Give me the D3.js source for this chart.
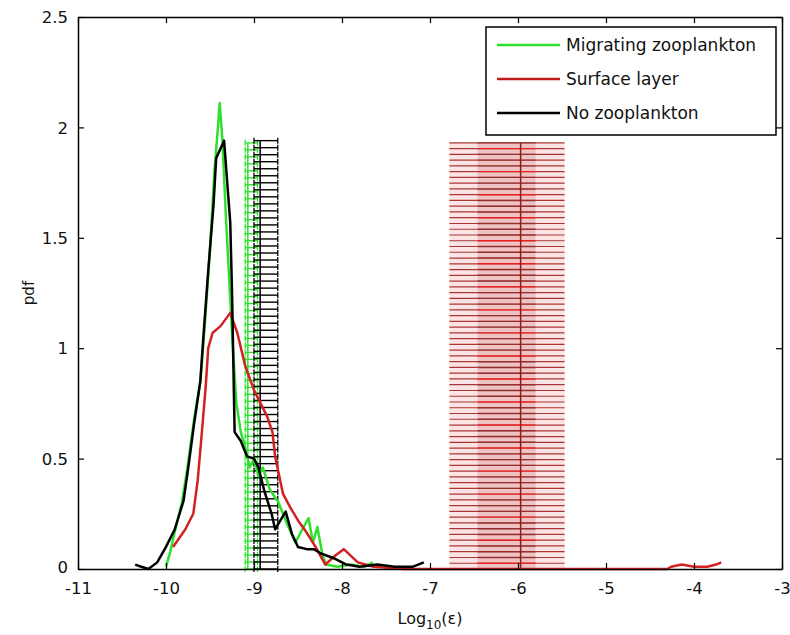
<!DOCTYPE html>
<html>
<head>
    <script src='https://cdn.jsdelivr.net/npm/d3@7'></script>
    <style type='text/css'>
        html, body { margin: 0; padding: 0; background: #ffffff; }
        text { font-family: 'DejaVu Sans', sans-serif; fill: #111; }
    </style>
</head>
<body>
<script>
    // Axis ticks
    const xTicks = [-11, -10, -9, -8, -7, -6, -5, -4, -3];
    const yTicks = [0, 0.5, 1, 1.5, 2, 2.5];

    // pdf curves [log10(eps), pdf]
    const migrating = [[-10.0,0.01],[-9.95,0.08],[-9.9,0.17],[-9.82,0.3],[-9.76,0.45],[-9.68,0.68],[-9.61,0.85],
        [-9.56,1.1],[-9.5,1.45],[-9.45,1.8],[-9.41,2.0],[-9.39,2.11],[-9.36,1.95],[-9.32,1.6],[-9.28,1.3],
        [-9.24,1.0],[-9.2,0.75],[-9.15,0.62],[-9.1,0.55],[-9.05,0.46],[-9.0,0.5],[-8.95,0.42],[-8.9,0.46],
        [-8.82,0.36],[-8.72,0.3],[-8.62,0.2],[-8.53,0.12],[-8.45,0.18],[-8.38,0.23],[-8.33,0.12],[-8.28,0.19],
        [-8.22,0.06],[-8.18,0.02],[-8.05,0.01],[-7.9,0.02],[-7.75,0.01],[-7.65,0.03]];
    const surface = [[-9.92,0.1],[-9.78,0.18],[-9.69,0.25],[-9.64,0.4],[-9.59,0.63],[-9.55,0.82],[-9.52,1.0],
        [-9.47,1.07],[-9.38,1.1],[-9.27,1.16],[-9.19,1.07],[-9.1,0.92],[-9.0,0.81],[-8.85,0.69],[-8.79,0.62],
        [-8.76,0.51],[-8.67,0.34],[-8.59,0.28],[-8.5,0.22],[-8.41,0.17],[-8.3,0.1],[-8.19,0.02],[-8.08,0.06],
        [-7.98,0.09],[-7.82,0.03],[-7.64,0.01],[-7.3,0.0],[-6.8,0.0],[-6.0,0.0],[-5.0,0.0],[-4.3,0.0],
        [-4.26,0.01],[-4.14,0.02],[-4.0,0.01],[-3.85,0.01],[-3.75,0.02],[-3.69,0.03]];
    const noZoo = [[-10.35,0.02],[-10.28,0.01],[-10.2,0.0],[-10.1,0.03],[-10.0,0.1],[-9.9,0.18],[-9.8,0.31],
        [-9.75,0.45],[-9.68,0.66],[-9.61,0.85],[-9.57,1.08],[-9.52,1.35],[-9.46,1.65],[-9.43,1.86],[-9.34,1.94],
        [-9.27,1.57],[-9.25,1.26],[-9.22,0.62],[-9.15,0.58],[-9.08,0.51],[-9.0,0.5],[-8.95,0.46],[-8.88,0.35],
        [-8.8,0.25],[-8.76,0.18],[-8.7,0.22],[-8.64,0.26],[-8.57,0.16],[-8.5,0.1],[-8.4,0.09],[-8.32,0.09],
        [-8.24,0.07],[-8.1,0.05],[-7.95,0.02],[-7.8,0.01],[-7.6,0.02],[-7.4,0.01],[-7.2,0.01],[-7.07,0.03]];

    // horizontal error-bar combs: centre, extents, top level, number of levels
    const combNames = ['Migrating zooplankton', 'No zooplankton', 'Surface layer'];
    const combCentre = [-9.07, -8.93, -5.97];
    const combLo = [-9.1, -9.0, -6.78];
    const combHi = [-8.96, -8.73, -5.47];
    const combInnerLo = [null, null, -6.46];
    const combInnerHi = [null, null, -5.8];
    const combTop = [1.93, 1.94, 1.93];
    const combLevels = [62, 62, 75];

    const seriesNames = ['Migrating zooplankton', 'Surface layer', 'No zooplankton'];
    const seriesColors = ['#2ee02e', '#d42020', '#000000'];

    // page setup
    const width = 790, height = 635;
    const margin = {left: 78, right: 8, top: 17, bottom: 66};
    const svg = d3.select('body').append('svg')
        .attr('width', width).attr('height', height);

    const x = d3.scaleLinear().domain([-11, -3]).range([margin.left, width - margin.right]);
    const y = d3.scaleLinear().domain([0, 2.5]).range([height - margin.bottom, margin.top]);

    const plot = svg.append('g');

    // combs
    const combColors = ['#2ee02e', '#000000', '#a83636'];
    combNames.forEach((name, i) => {
        const g = plot.append('g');
        const levels = d3.range(combLevels[i]).map(k => combTop[i] * k / (combLevels[i] - 1));
        if (i === 2) {
            g.append('rect')
                .attr('x', x(combLo[i])).attr('y', y(combTop[i]))
                .attr('width', x(combHi[i]) - x(combLo[i]))
                .attr('height', y(0) - y(combTop[i]))
                .attr('fill', '#fde4e4');
        }
        g.selectAll('line.h').data(levels).join('line')
            .attr('class', 'h')
            .attr('x1', x(combLo[i])).attr('x2', x(combHi[i]))
            .attr('y1', d => y(d)).attr('y2', d => y(d))
            .attr('stroke', combColors[i]).attr('stroke-width', i === 2 ? 1.2 : 1.4);
        if (combInnerLo[i] !== null) {
            g.append('rect')
                .attr('x', x(combInnerLo[i])).attr('y', y(combTop[i]))
                .attr('width', x(combInnerHi[i]) - x(combInnerLo[i]))
                .attr('height', y(0) - y(combTop[i]))
                .attr('fill', '#e0a8a8').attr('opacity', 0.55);
            g.selectAll('line.in').data(levels).join('line')
                .attr('class', 'in')
                .attr('x1', x(combInnerLo[i])).attr('x2', x(combInnerHi[i]))
                .attr('y1', d => y(d)).attr('y2', d => y(d))
                .attr('stroke', (d, k) => k % 4 === 1 ? '#e82020' : '#963030')
                .attr('stroke-width', 1.4);
        } else {
            // end caps
            [combLo[i], combHi[i]].forEach(v => {
                g.selectAll(null).data(levels).join('line')
                    .attr('x1', x(v)).attr('x2', x(v))
                    .attr('y1', d => y(d) - 3).attr('y2', d => y(d) + 3)
                    .attr('stroke', combColors[i]).attr('stroke-width', 1.3);
            });
        }
        g.append('line')
            .attr('x1', x(combCentre[i])).attr('x2', x(combCentre[i]))
            .attr('y1', y(0)).attr('y2', y(combTop[i]))
            .attr('stroke', i === 2 ? '#9a1818' : combColors[i]).attr('stroke-width', 1.5);
    });

    // curves
    const line = d3.line().x(d => x(d[0])).y(d => y(d[1]));
    [migrating, surface, noZoo].forEach((s, i) => {
        plot.append('path')
            .datum(s)
            .attr('d', line)
            .attr('fill', 'none')
            .attr('stroke', seriesColors[i])
            .attr('stroke-width', 2.5)
            .attr('stroke-linejoin', 'round');
    });

    // axes box with inward ticks
    const fmt = d => String(d);
    const axisG = svg.append('g');
    const axBottom = axisG.append('g').attr('transform', `translate(0,${y(0)})`)
        .call(d3.axisBottom(x).tickValues(xTicks).tickSizeInner(-6).tickSizeOuter(0).tickPadding(10).tickFormat(fmt));
    axisG.append('g').attr('transform', `translate(0,${y(2.5)})`)
        .call(d3.axisTop(x).tickValues(xTicks).tickSizeInner(-6).tickSizeOuter(0).tickFormat(''));
    const axLeft = axisG.append('g').attr('transform', `translate(${x(-11)},0)`)
        .call(d3.axisLeft(y).tickValues(yTicks).tickSizeInner(-6).tickSizeOuter(0).tickPadding(10).tickFormat(fmt));
    axisG.append('g').attr('transform', `translate(${x(-3)},0)`)
        .call(d3.axisRight(y).tickValues(yTicks).tickSizeInner(-6).tickSizeOuter(0).tickFormat(''));
    axisG.selectAll(':scope > g')
        .attr('font-size', 16.5)
        .attr('font-family', "'DejaVu Sans', sans-serif");
    axisG.selectAll('.domain').attr('stroke', '#000').attr('stroke-width', 1.5);
    axisG.selectAll('.tick line').attr('stroke', '#000').attr('stroke-width', 1.2);
    axisG.selectAll('.tick text').attr('fill', '#111');
    axBottom.selectAll('.tick text').attr('dy', '0.9em');
    axLeft.selectAll('.tick text').attr('dy', '0.35em');
    // zero label sits a touch lower in the reference
    axLeft.selectAll('.tick text').filter(d => d === 0).attr('dy', '0.2em');

    // axis labels
    const xl = svg.append('text')
        .attr('x', 430).attr('y', 624)
        .attr('text-anchor', 'middle')
        .attr('font-size', 16);
    xl.append('tspan').text('Log');
    xl.append('tspan').text('10').attr('font-size', 12).attr('dy', 5);
    xl.append('tspan').text('(ε)').attr('dy', -5);

    svg.append('text')
        .attr('transform', `translate(34,${(y(0) + y(2.5)) / 2}) rotate(-90)`)
        .attr('text-anchor', 'middle')
        .attr('font-size', 15)
        .text('pdf');

    // legend
    const legend = svg.append('g');
    legend.append('rect')
        .attr('x', 486).attr('y', 27).attr('width', 290).attr('height', 108)
        .attr('fill', '#fff').attr('stroke', '#000').attr('stroke-width', 1.5);
    const legendColors = ['#2ee02e', '#c01c1c', '#000000'];
    seriesNames.forEach((name, i) => {
        const ly = 45 + i * 34;
        legend.append('line')
            .attr('x1', 497).attr('x2', 560).attr('y1', ly).attr('y2', ly)
            .attr('stroke', legendColors[i]).attr('stroke-width', 2.5);
        legend.append('text')
            .attr('x', 566).attr('y', ly).attr('dy', '0.36em')
            .attr('font-size', 17)
            .text(name);
    });
</script>
</body>
</html>
